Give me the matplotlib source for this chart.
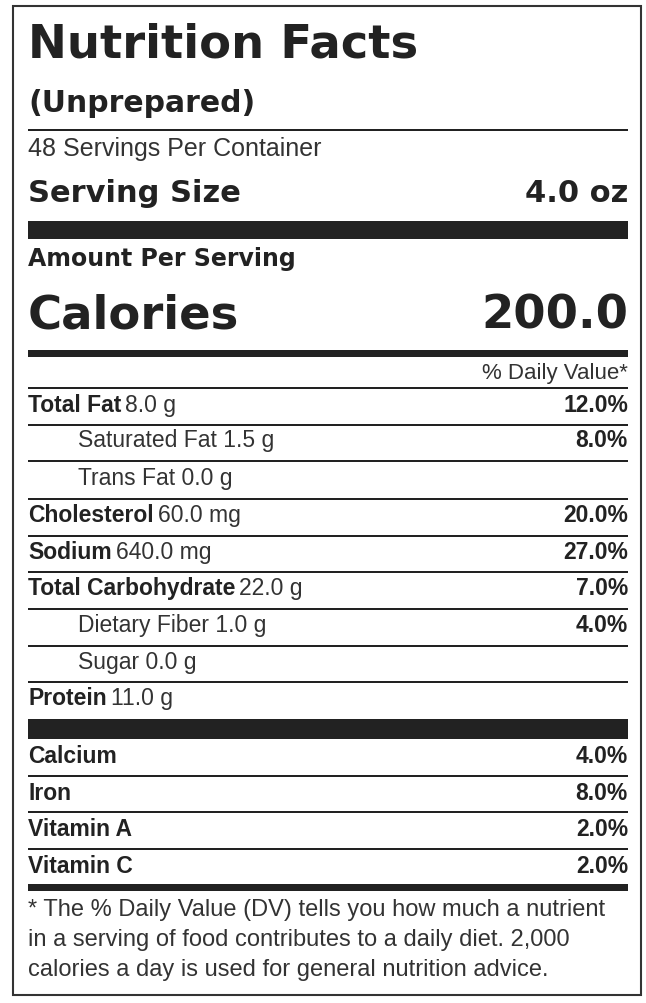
import matplotlib
matplotlib.use("Agg")
import matplotlib.pyplot as plt
from matplotlib.patches import Rectangle

title = "Nutrition Facts"
subtitle = "(Unprepared)"
servings = "48 Servings Per Container"
serving_size = "4.0 oz"
calories = "200.0"
row_names = ["Total Fat", "Saturated Fat", "Trans Fat", "Cholesterol", "Sodium",
             "Total Carbohydrate", "Dietary Fiber", "Sugar", "Protein"]
row_amounts = ["8.0 g", "1.5 g", "0.0 g", "60.0 mg", "640.0 mg", "22.0 g", "1.0 g", "0.0 g", "11.0 g"]
row_dv = ["12.0%", "8.0%", "", "20.0%", "27.0%", "7.0%", "4.0%", "", ""]
row_indent = [False, True, True, False, False, False, True, True, False]
vit_names = ["Calcium", "Iron", "Vitamin A", "Vitamin C"]
vit_dv = ["4.0%", "8.0%", "2.0%", "2.0%"]
footnote = ["* The % Daily Value (DV) tells you how much a nutrient",
            "in a serving of food contributes to a daily diet. 2,000",
            "calories a day is used for general nutrition advice."]

W, H = 646, 1004
fig = plt.figure(figsize=(W/100, H/100), dpi=100)
ax = fig.add_axes([0, 0, 1, 1])
ax.set_xlim(0, W); ax.set_ylim(H, 0); ax.axis("off")
C = "#222222"
L, R = 28, 628
F = "Liberation Sans"
D = "DejaVu Sans"
ax.add_patch(Rectangle((13, 7), 628, 989, fill=False, ec="#333333", lw=1.5))

def hline(y, h):
    ax.add_patch(Rectangle((L, y - h/2), R - L, h, color=C, lw=0))

ax.text(L, 45, title, fontsize=33.5, fontweight="heavy", family=D, va="center", color=C)
ax.text(L, 103, subtitle, fontsize=21.5, fontweight="bold", family=D, va="center", color=C)
hline(131, 2)
ax.text(L, 149, servings, fontsize=18, family=F, va="center", color="#333333")
ax.text(L, 194, "Serving Size", fontsize=22, fontweight="bold", family=D, va="center", color=C)
ax.text(R, 194, serving_size, fontsize=22, fontweight="bold", family=D, va="center", ha="right", color=C)
hline(231, 18)
ax.text(L, 259, "Amount Per Serving", fontsize=17, fontweight="bold", family=D, va="center", color=C)
ax.text(L, 316, "Calories", fontsize=33.5, fontweight="bold", family=D, va="center", color=C)
ax.text(R, 316, calories, fontsize=33.5, fontweight="bold", family=D, va="center", ha="right", color=C)
hline(354, 7)
ax.text(R, 374, "% Daily Value*", fontsize=16, family=F, va="center", ha="right", color="#333333")
hline(389, 2)

fig.canvas.draw()
rend = fig.canvas.get_renderer()

FS = 16.5
row_y = [406, 441, 479, 516, 553, 589, 626, 663, 699]
for i, (n, a, d, ind) in enumerate(zip(row_names, row_amounts, row_dv, row_indent)):
    y = row_y[i]
    x = 78 if ind else L
    if ind:
        ax.text(x, y, n + " " + a, fontsize=FS, family=F, va="center", color="#333333")
    else:
        t = ax.text(x, y, n, fontsize=FS, fontweight="bold", family=F, va="center", color=C)
        w = t.get_window_extent(rend).width
        ax.text(x + w + 4, y, a, fontsize=FS, family=F, va="center", color="#333333")
    if d:
        ax.text(R, y, d, fontsize=FS, fontweight="bold", family=F, va="center", ha="right", color=C)
    if i < len(row_names) - 1:
        hline((row_y[i] + row_y[i+1]) / 2 + 2, 2)
hline(730, 20)
vy = [757, 794, 830, 867]
for i, (n, d) in enumerate(zip(vit_names, vit_dv)):
    ax.text(L, vy[i], n, fontsize=FS, fontweight="bold", family=F, va="center", color=C)
    ax.text(R, vy[i], d, fontsize=FS, fontweight="bold", family=F, va="center", ha="right", color=C)
    if i < 3:
        hline((vy[i] + vy[i+1]) / 2 + 1, 2)
hline(888, 7)
for i, s in enumerate(footnote):
    ax.text(L, 910 + 30*i, s, fontsize=17, family=F, va="center", color="#333333")

fig.savefig("out.png", dpi=100, facecolor="white")
